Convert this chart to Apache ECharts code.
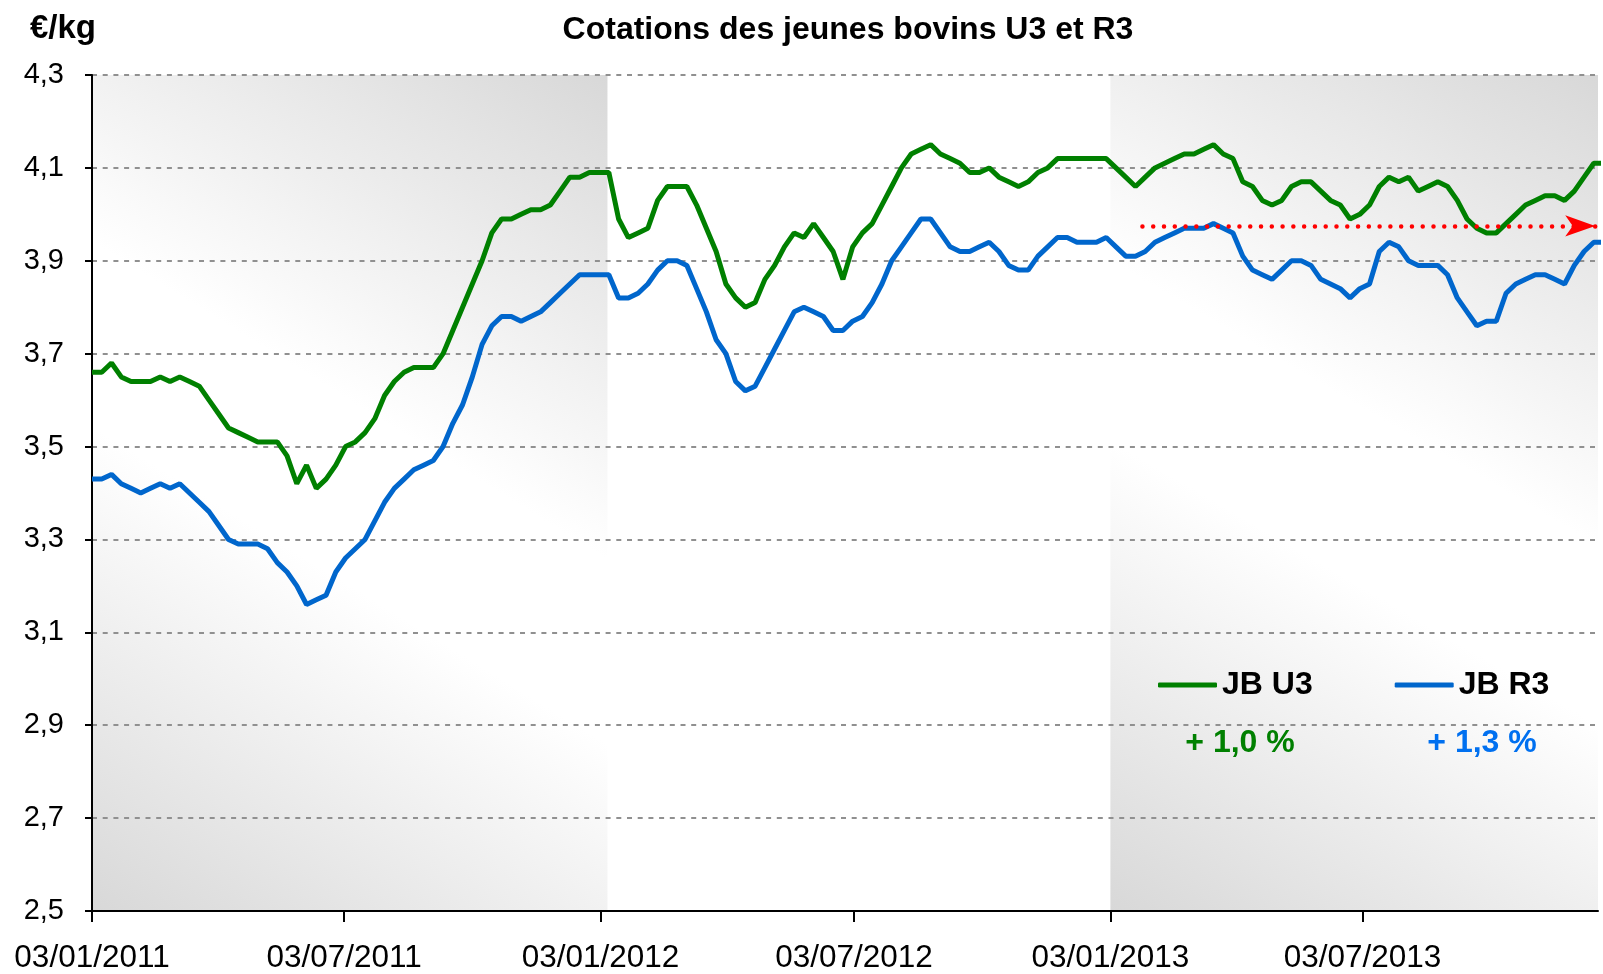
<!DOCTYPE html>
<html>
<head>
<meta charset="utf-8">
<title>Cotations des jeunes bovins U3 et R3</title>
<script src="https://cdn.jsdelivr.net/npm/echarts@6/dist/echarts.min.js"></script>
<style>
  html, body { margin: 0; padding: 0; background: #fff; }
  #chart { width: 1603px; height: 974px; }
</style>
</head>
<body>
<div id="chart"></div>
<script>
// weekly quotations, first week starting 03/01/2011
const firstWeek = '2011-01-03'
const u3 = [
  3.66, 3.66, 3.68, 3.65, 3.64, 3.64, 3.64, 3.65, 3.64, 3.65,
  3.64, 3.63, 3.60, 3.57, 3.54, 3.53, 3.52, 3.51, 3.51, 3.51,
  3.48, 3.42, 3.46, 3.41, 3.43, 3.46, 3.50, 3.51, 3.53, 3.56,
  3.61, 3.64, 3.66, 3.67, 3.67, 3.67, 3.70, 3.75, 3.80, 3.85,
  3.90, 3.96, 3.99, 3.99, 4.00, 4.01, 4.01, 4.02, 4.05, 4.08,
  4.08, 4.09, 4.09, 4.09, 3.99, 3.95, 3.96, 3.97, 4.03, 4.06,
  4.06, 4.06, 4.02, 3.97, 3.92, 3.85, 3.82, 3.80, 3.81, 3.86,
  3.89, 3.93, 3.96, 3.95, 3.98, 3.95, 3.92, 3.86, 3.93, 3.96,
  3.98, 4.02, 4.06, 4.10, 4.13, 4.14, 4.15, 4.13, 4.12, 4.11,
  4.09, 4.09, 4.10, 4.08, 4.07, 4.06, 4.07, 4.09, 4.10, 4.12,
  4.12, 4.12, 4.12, 4.12, 4.12, 4.10, 4.08, 4.06, 4.08, 4.10,
  4.11, 4.12, 4.13, 4.13, 4.14, 4.15, 4.13, 4.12, 4.07, 4.06,
  4.03, 4.02, 4.03, 4.06, 4.07, 4.07, 4.05, 4.03, 4.02, 3.99,
  4.00, 4.02, 4.06, 4.08, 4.07, 4.08, 4.05, 4.06, 4.07, 4.06,
  4.03, 3.99, 3.97, 3.96, 3.96, 3.98, 4.00, 4.02, 4.03, 4.04,
  4.04, 4.03, 4.05, 4.08, 4.11, 4.11
]
const r3 = [
  3.43, 3.43, 3.44, 3.42, 3.41, 3.40, 3.41, 3.42, 3.41, 3.42,
  3.40, 3.38, 3.36, 3.33, 3.30, 3.29, 3.29, 3.29, 3.28, 3.25,
  3.23, 3.20, 3.16, 3.17, 3.18, 3.23, 3.26, 3.28, 3.30, 3.34,
  3.38, 3.41, 3.43, 3.45, 3.46, 3.47, 3.50, 3.55, 3.59, 3.65,
  3.72, 3.76, 3.78, 3.78, 3.77, 3.78, 3.79, 3.81, 3.83, 3.85,
  3.87, 3.87, 3.87, 3.87, 3.82, 3.82, 3.83, 3.85, 3.88, 3.90,
  3.90, 3.89, 3.84, 3.79, 3.73, 3.70, 3.64, 3.62, 3.63, 3.67,
  3.71, 3.75, 3.79, 3.80, 3.79, 3.78, 3.75, 3.75, 3.77, 3.78,
  3.81, 3.85, 3.90, 3.93, 3.96, 3.99, 3.99, 3.96, 3.93, 3.92,
  3.92, 3.93, 3.94, 3.92, 3.89, 3.88, 3.88, 3.91, 3.93, 3.95,
  3.95, 3.94, 3.94, 3.94, 3.95, 3.93, 3.91, 3.91, 3.92, 3.94,
  3.95, 3.96, 3.97, 3.97, 3.97, 3.98, 3.97, 3.96, 3.91, 3.88,
  3.87, 3.86, 3.88, 3.90, 3.90, 3.89, 3.86, 3.85, 3.84, 3.82,
  3.84, 3.85, 3.92, 3.94, 3.93, 3.90, 3.89, 3.89, 3.89, 3.87,
  3.82, 3.79, 3.76, 3.77, 3.77, 3.83, 3.85, 3.86, 3.87, 3.87,
  3.86, 3.85, 3.89, 3.92, 3.94, 3.94
]
const seriesNames = ['JB U3', 'JB R3']
const changeLabels = ['+ 1,0 %', '+ 1,3 %']
const tickDates = ['2011-01-03', '2011-07-03', '2012-01-03', '2012-07-03', '2013-01-03', '2013-07-03']
const axisEnd = '2013-12-19'
const shadedPeriods = [['2011-01-03', '2012-01-08'], ['2013-01-03', '2013-12-19']]
const refLevel = 3.975
const refFrom = '2013-01-26'
const refTo = '2013-12-17'

const font = '"Liberation Sans", Arial, sans-serif'
const DAY = 86400000

// x axis is counted in days from the first week
function toDay(s) {
  const p = s.split('-')
  const a = firstWeek.split('-')
  return Math.round((Date.UTC(+p[0], +p[1] - 1, +p[2]) - Date.UTC(+a[0], +a[1] - 1, +a[2])) / DAY)
}
function pad(n) {
  return (n < 10 ? '0' : '') + n
}
function fmtDay(day) {
  const a = firstWeek.split('-')
  const d = new Date(Date.UTC(+a[0], +a[1] - 1, +a[2]) + Math.round(day) * DAY)
  return pad(d.getUTCDate()) + '/' + pad(d.getUTCMonth() + 1) + '/' + d.getUTCFullYear()
}

const ticks = tickDates.map(toDay)

const bandFill = new echarts.graphic.LinearGradient(0, 1, 1, 0, [
  { offset: 0, color: '#d8d8d8' },
  { offset: 0.42, color: '#ffffff' },
  { offset: 0.58, color: '#ffffff' },
  { offset: 1, color: '#d8d8d8' }
])

const chart = echarts.init(document.getElementById('chart'), null, { renderer: 'canvas' })

const option = {
  animation: false,
  backgroundColor: '#ffffff',
  textStyle: { fontFamily: font },
  title: {
    text: 'Cotations des jeunes bovins U3 et R3',
    left: 848,
    top: 14,
    padding: 0,
    textAlign: 'center',
    textStyle: { fontSize: 32, fontWeight: 'bold', color: '#000', fontFamily: font }
  },
  grid: { left: 92, right: 5, top: 75, bottom: 63 },
  legend: {
    data: seriesNames,
    left: 1158,
    top: 669,
    padding: 0,
    icon: 'roundRect',
    itemWidth: 59,
    itemHeight: 5,
    itemGap: 82,
    textStyle: { fontSize: 32, fontWeight: 'bold', color: '#000', fontFamily: font }
  },
  xAxis: {
    type: 'value',
    min: 0,
    max: toDay(axisEnd),
    axisLine: { lineStyle: { color: '#000', width: 2 } },
    axisTick: { show: true, length: 11, customValues: ticks, lineStyle: { color: '#000', width: 2 } },
    axisLabel: {
      customValues: ticks,
      formatter: function(val) {
        return fmtDay(val)
      },
      fontSize: 31.5,
      lineHeight: 32,
      color: '#000',
      margin: 31,
      fontFamily: font
    },
    splitLine: { show: false }
  },
  yAxis: {
    type: 'value',
    min: 2.5,
    max: 4.3,
    interval: 0.2,
    axisLine: { show: true, lineStyle: { color: '#000', width: 2 } },
    axisTick: { show: true, length: 7, lineStyle: { color: '#000', width: 2 } },
    axisLabel: {
      formatter: function(val) {
        return val.toFixed(1).replace('.', ',')
      },
      fontSize: 29,
      color: '#000',
      margin: 28,
      fontFamily: font
    },
    splitLine: { lineStyle: { color: '#909090', width: 2, type: [5, 5.7] } }
  },
  series: [
    {
      name: seriesNames[0],
      type: 'line',
      data: u3.map(function(v, i) { return [7 * i, v] }),
      showSymbol: false,
      symbol: 'none',
      clip: false,
      color: '#008000',
      lineStyle: { color: '#008000', width: 5 },
      z: 3,
      markArea: {
        silent: true,
        z: -1,
        itemStyle: { color: bandFill },
        data: shadedPeriods.map(function(p) {
          return [{ xAxis: toDay(p[0]) }, { xAxis: toDay(p[1]) }]
        })
      },
      markLine: {
        silent: true,
        symbol: ['none', 'arrow'],
        symbolSize: [16, 30],
        label: { show: false },
        lineStyle: { color: '#ff0000', width: 4.5, type: [0.01, 10.77], cap: 'round' },
        data: [[
          { coord: [toDay(refFrom), refLevel] },
          { coord: [toDay(refTo), refLevel] }
        ]]
      }
    },
    {
      name: seriesNames[1],
      type: 'line',
      data: r3.map(function(v, i) { return [7 * i, v] }),
      showSymbol: false,
      symbol: 'none',
      clip: false,
      color: '#0066cc',
      lineStyle: { color: '#0066cc', width: 5 },
      z: 2
    }
  ],
  graphic: [
    {
      type: 'text',
      left: 30,
      top: 12,
      style: { text: '€/kg', font: 'bold 33px ' + font, fill: '#000' }
    },
    {
      type: 'text',
      x: 1240,
      y: 743,
      style: { text: changeLabels[0], font: 'bold 32px ' + font, fill: '#008000', align: 'center', verticalAlign: 'middle' }
    },
    {
      type: 'text',
      x: 1482,
      y: 743,
      style: { text: changeLabels[1], font: 'bold 32px ' + font, fill: '#0070f0', align: 'center', verticalAlign: 'middle' }
    }
  ]
}

chart.setOption(option)
</script>
</body>
</html>
